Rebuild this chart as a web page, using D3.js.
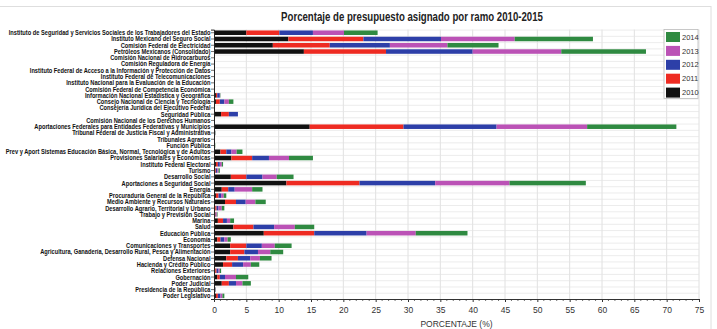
<!DOCTYPE html>
<html>
<head>
<meta charset="utf-8">
<script src="https://cdn.jsdelivr.net/npm/d3@7"></script>
<style>
  body { margin: 0; background: #fff; }
  svg { display: block; font-family: "Liberation Sans Narrow", "Liberation Sans", Arial, sans-serif; }
</style>
</head>
<body>
<svg id="chart" width="717" height="329"></svg>
<script>
const categories = [
    'Instituto de Seguridad y Servicios Sociales de los Trabajadores del Estado',
    'Instituto Mexicano del Seguro Social',
    'Comisión Federal de Electricidad',
    'Petróleos Mexicanos (Consolidado)',
    'Comisión Nacional de Hidrocarburos',
    'Comisión Reguladora de Energía',
    'Instituto Federal de Acceso a la Información y Protección de Datos',
    'Instituto Federal de Telecomunicaciones',
    'Instituto Nacional para la Evaluación de la Educación',
    'Comisión Federal de Competencia Económica',
    'Información Nacional Estadística y Geográfica',
    'Consejo Nacional de Ciencia y Tecnología',
    'Consejería Jurídica del Ejecutivo Federal',
    'Seguridad Pública',
    'Comisión Nacional de los Derechos Humanos',
    'Aportaciones Federales para Entidades Federativas y Municipios',
    'Tribunal Federal de Justicia Fiscal y Administrativa',
    'Tribunales Agrarios',
    'Función Pública',
    'Prev y Aport Sistemas Educación Básica, Normal, Tecnológica y de Adultos',
    'Provisiones Salariales y Económicas',
    'Instituto Federal Electoral',
    'Turismo',
    'Desarrollo Social',
    'Aportaciones a Seguridad Social',
    'Energía',
    'Procuraduría General de la República',
    'Medio Ambiente y Recursos Naturales',
    'Desarrollo Agrario, Territorial y Urbano',
    'Trabajo y Previsión Social',
    'Marina',
    'Salud',
    'Educación Pública',
    'Economía',
    'Comunicaciones y Transportes',
    'Agricultura, Ganadería, Desarrollo Rural, Pesca y Alimentación',
    'Defensa Nacional',
    'Hacienda y Crédito Público',
    'Relaciones Exteriores',
    'Gobernación',
    'Poder Judicial',
    'Presidencia de la República',
    'Poder Legislativo'
];

const years = ['2010', '2011', '2012', '2013', '2014'];

const y2010 = [5.0, 11.5, 9.1, 13.9, 0, 0, 0, 0, 0, 0, 0.3, 0.3, 0.01, 1.1, 0.03, 14.8, 0.05, 0.02, 0.04,
    1.0, 2.7, 0.3, 0.2, 2.6, 11.2, 1.2, 0.3, 1.7, 0.2, 0.15, 0.6, 3.0, 7.7, 0.5, 2.5, 2.5, 1.9, 1.4, 0.2, 0.5, 1.2, 0.1, 0.3];
const y2011 = [5.1, 11.6, 8.8, 12.7, 0, 0, 0, 0, 0, 0, 0.2, 0.6, 0.01, 1.2, 0.03, 14.5, 0.05, 0.02, 0.04,
    0.9, 3.2, 0.3, 0.1, 2.4, 11.3, 1.0, 0.4, 1.7, 0.2, 0.1, 0.8, 3.1, 7.8, 0.5, 2.5, 2.2, 1.8, 1.4, 0.2, 0.4, 1.1, 0.05, 0.3];
const y2012 = [5.2, 12.0, 9.3, 13.4, 0, 0, 0, 0, 0, 0, 0.4, 0.7, 0.01, 1.4, 0.03, 14.4, 0.05, 0.02, 0.04,
    0.8, 2.6, 0.3, 0.2, 2.5, 11.7, 1.0, 0.4, 1.5, 0.3, 0.1, 0.6, 3.2, 8.1, 0.6, 2.4, 2.1, 1.9, 1.7, 0.3, 0.8, 1.1, 0.05, 0.4];
const y2013 = [4.8, 11.4, 8.9, 13.7, 0, 0, 0, 0, 0, 0, 0.05, 0.7, 0.01, 0, 0.03, 14.0, 0.05, 0.02, 0.04,
    0.8, 3.1, 0.3, 0.2, 2.2, 11.5, 2.7, 0.4, 1.5, 0.5, 0.1, 0.5, 3.2, 7.6, 0.5, 2.0, 1.9, 1.5, 1.2, 0.2, 1.7, 1.0, 0.05, 0.3];
const y2014 = [5.2, 12.1, 7.9, 13.1, 0.02, 0.02, 0.03, 0.03, 0.03, 0.03, 0.05, 0.7, 0.01, 0, 0.03, 13.8, 0.05, 0.02, 0.04,
    0.9, 3.7, 0.2, 0.2, 2.6, 11.8, 1.6, 0.4, 1.6, 0.4, 0.1, 0.6, 3.0, 8.0, 0.5, 2.6, 2.0, 1.8, 1.3, 0.2, 1.9, 1.3, 0.05, 0.3];

const xTicks = [0, 5, 10, 15, 20, 25, 30, 35, 40, 45, 50, 55, 60, 65, 70, 75];

const colors = ['#111111', '#ee2b22', '#2d3fa8', '#bb52b6', '#2f8a41'];

const margin = { top: 29.6, right: 18, bottom: 30, left: 214 };
const width = 717, height = 329;

const svg = d3.select('#chart');

// outer frame
svg.append('rect')
    .attr('x', -1).attr('y', 6.5)
    .attr('width', 712).attr('height', 330)
    .attr('fill', 'none')
    .attr('stroke', '#dedede');

const series = [y2010, y2011, y2012, y2013, y2014];
const rows = categories.map((c, i) => {
    const r = { name: c };
    years.forEach((yr, k) => { r[yr] = series[k][i]; });
    return r;
});
const stacked = d3.stack().keys(years)(rows);

const x = d3.scaleLinear().domain([0, 75]).range([214, 699]);
const y = d3.scaleBand().domain(categories).range([29.6, 299]).paddingInner(0.28).paddingOuter(0.14);

// grid
const grid = svg.append('g').attr('class', 'grid');
grid.selectAll('line.v')
    .data(xTicks.slice(1))
    .join('line')
    .attr('x1', d => x(d)).attr('x2', d => x(d))
    .attr('y1', 29.6).attr('y2', 299)
    .attr('stroke', '#d8d8d8').attr('stroke-width', 0.8);
const step = y.step();
grid.selectAll('line.h')
    .data(d3.range(categories.length))
    .join('line')
    .attr('x1', 214).attr('x2', 699)
    .attr('y1', d => 29.6 + step * d + 0.5)
    .attr('y2', d => 29.6 + step * d + 0.5)
    .attr('stroke', '#e4e4e4').attr('stroke-width', 0.7);

// bars
svg.append('g')
    .selectAll('g')
    .data(stacked)
    .join('g')
    .attr('fill', (d, i) => colors[i])
    .selectAll('rect')
    .data(d => d)
    .join('rect')
    .attr('x', d => x(d[0]))
    .attr('y', d => y(d.data.name))
    .attr('width', d => Math.max(0, x(d[1]) - x(d[0])))
    .attr('height', y.bandwidth());

// y axis
const yAxis = svg.append('g')
    .attr('transform', 'translate(214,0)')
    .call(d3.axisLeft(y).tickSize(3).tickFormat(''));
yAxis.select('.domain').attr('stroke', '#222').attr('stroke-width', 1);
yAxis.selectAll('.tick line').attr('stroke', '#333').attr('stroke-width', 0.7);

// category labels, squeezed to the condensed look of the original
const labels = svg.append('g');
const labelTexts = labels.selectAll('text')
    .data(categories)
    .join('text')
    .attr('x', 0)
    .attr('y', d => y(d) + y.bandwidth() / 2)
    .attr('dy', '0.35em')
    .attr('text-anchor', 'end')
    .attr('font-size', 7)
    .attr('font-weight', 'bold')
    .attr('fill', '#111')
    .text(d => d);
const firstW = labelTexts.node().getComputedTextLength();
const sx = 202 / firstW;
labels.attr('transform', `translate(210.5,0) scale(${sx},1)`);

// x axis
const xAxis = svg.append('g')
    .attr('transform', 'translate(0,299)')
    .call(d3.axisBottom(x).tickValues(xTicks).tickSize(3).tickPadding(5));
xAxis.select('.domain').attr('stroke', '#333');
xAxis.selectAll('.tick line').attr('stroke', '#333');
xAxis.selectAll('.tick text')
    .attr('font-size', 8.5)
    .attr('fill', '#333')
    .attr('font-family', '"Liberation Sans Narrow", "Liberation Sans", Arial, sans-serif');
// minor ticks
svg.append('g')
    .selectAll('line')
    .data(d3.range(0, 76).filter(d => d % 5 !== 0))
    .join('line')
    .attr('x1', d => x(d)).attr('x2', d => x(d))
    .attr('y1', 299).attr('y2', 301)
    .attr('stroke', '#333').attr('stroke-width', 0.7);

svg.append('text')
    .attr('x', 456.5).attr('y', 327)
    .attr('text-anchor', 'middle')
    .attr('font-size', 8.5)
    .attr('fill', '#333')
    .text('PORCENTAJE (%)');

// title
const title = svg.append('g');
const titleText = title.append('text')
    .attr('x', 0).attr('y', 21)
    .attr('text-anchor', 'middle')
    .attr('font-size', 12.5)
    .attr('font-weight', 'bold')
    .attr('fill', '#222')
    .text('Porcentaje de presupuesto asignado por ramo 2010-2015');
const tw = titleText.node().getComputedTextLength();
title.attr('transform', `translate(412,0) scale(${262 / tw},1)`);

// legend
const legend = svg.append('g').attr('transform', 'translate(664,29.5)');
legend.append('rect')
    .attr('width', 34).attr('height', 69)
    .attr('fill', '#fff')
    .attr('stroke', '#bbb').attr('stroke-width', 0.8);
const legendYears = years.slice().reverse();
const li = legend.selectAll('g')
    .data(legendYears)
    .join('g')
    .attr('transform', (d, i) => `translate(2,${2.5 + i * 13.9})`);
li.append('rect')
    .attr('width', 14).attr('height', 10)
    .attr('fill', d => colors[years.indexOf(d)]);
li.append('text')
    .attr('x', 16).attr('y', 5)
    .attr('dy', '0.35em')
    .attr('font-size', 7.5)
    .attr('fill', '#333')
    .text(d => d);
</script>
</body>
</html>
